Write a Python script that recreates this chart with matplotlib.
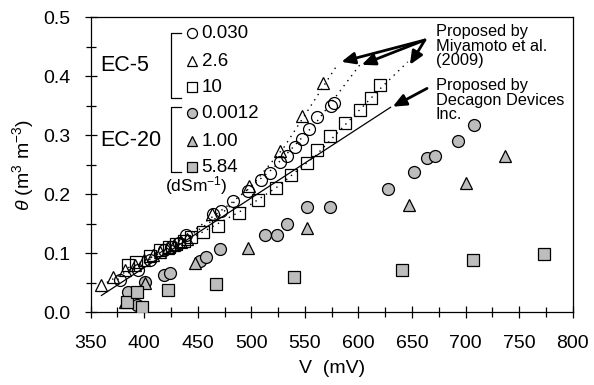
import matplotlib
matplotlib.use("Agg")
import matplotlib.pyplot as plt

plt.rcParams['font.family'] = ['Liberation Sans', 'DejaVu Sans']
plt.rcParams['mathtext.fontset'] = 'custom'
plt.rcParams['mathtext.rm'] = 'Liberation Sans'
plt.rcParams['mathtext.it'] = 'Liberation Sans:italic'

# EC-5 (open markers)
ec5_c_v = [377, 394, 405, 418, 425, 432, 439, 464, 472, 483, 497, 509, 517, 527, 533, 541, 547, 554, 561, 574, 577]
ec5_c_t = [0.054, 0.071, 0.088, 0.105, 0.110, 0.117, 0.131, 0.166, 0.172, 0.188, 0.205, 0.224, 0.236, 0.255, 0.265,
           0.280, 0.294, 0.311, 0.331, 0.350, 0.354]
ec5_t_v = [360, 371, 382, 391, 400, 408, 415, 422, 428, 434, 440, 463, 498, 527, 547, 567]
ec5_t_t = [0.046, 0.060, 0.071, 0.080, 0.088, 0.096, 0.102, 0.108, 0.113, 0.118, 0.124, 0.166, 0.213, 0.273, 0.333, 0.388]
ec5_s_v = [385, 392, 405, 415, 423, 430, 437, 444, 455, 469, 488, 506, 523, 537, 552, 561, 573, 587, 601, 612, 620]
ec5_s_t = [0.080, 0.085, 0.095, 0.105, 0.110, 0.115, 0.120, 0.127, 0.136, 0.146, 0.168, 0.190, 0.211, 0.232, 0.252,
           0.275, 0.298, 0.320, 0.342, 0.362, 0.385]

# EC-20 (grey markers)
ec20_c_v = [385, 393, 401, 418, 424, 452, 458, 471, 513, 524, 533, 552, 573, 628, 652, 664, 671, 693, 708]
ec20_c_t = [0.034, 0.012, 0.051, 0.062, 0.066, 0.086, 0.093, 0.106, 0.130, 0.130, 0.150, 0.178, 0.178, 0.208, 0.237,
            0.261, 0.265, 0.290, 0.317]
ec20_t_v = [382, 401, 447, 497, 552, 647, 700, 737]
ec20_t_t = [0.017, 0.049, 0.083, 0.108, 0.142, 0.181, 0.219, 0.264]
ec20_s_v = [384, 393, 398, 422, 467, 540, 641, 707, 773]
ec20_s_t = [0.017, 0.034, 0.009, 0.037, 0.047, 0.060, 0.071, 0.088, 0.098]

# calibration curves
miya_a_v = [365, 400, 440, 470, 500, 530, 555, 581]
miya_a_t = [0.050, 0.086, 0.126, 0.163, 0.213, 0.278, 0.348, 0.421]
miya_b_v = [375, 400, 440, 480, 520, 560, 603]
miya_b_t = [0.055, 0.083, 0.130, 0.183, 0.243, 0.320, 0.423]
miya_c_v = [385, 420, 455, 490, 525, 560, 590, 620, 646]
miya_c_t = [0.075, 0.104, 0.136, 0.171, 0.213, 0.265, 0.322, 0.378, 0.424]
deca_v = [360, 630]
deca_t = [0.028, 0.347]

grey = '#bdbdbd'

fig = plt.figure(figsize=(5.94, 3.85), dpi=100)
ax = fig.add_axes([0.1527, 0.1896, 0.8114, 0.7662])

ax.plot(deca_v, deca_t, color='k', lw=0.9, zorder=2)
for vv, tt in [(miya_a_v, miya_a_t), (miya_b_v, miya_b_t), (miya_c_v, miya_c_t)]:
    ax.plot(vv, tt, color='k', lw=1.0, ls=(0, (1, 3.5)), zorder=4)

ms = 8.6
ax.plot(ec20_c_v, ec20_c_t, 'o', ms=ms, mfc=grey, mec='k', mew=0.9, zorder=3)
ax.plot(ec20_t_v, ec20_t_t, '^', ms=ms, mfc=grey, mec='k', mew=0.9, zorder=3)
ax.plot(ec20_s_v, ec20_s_t, 's', ms=ms, mfc=grey, mec='k', mew=0.9, zorder=3)
ax.plot(ec5_s_v, ec5_s_t, 's', ms=ms, mfc='none', mec='k', mew=0.9, zorder=3)
ax.plot(ec5_c_v, ec5_c_t, 'o', ms=ms, mfc='none', mec='k', mew=0.9, zorder=3)
ax.plot(ec5_t_v, ec5_t_t, '^', ms=ms, mfc='none', mec='k', mew=0.9, zorder=3)

ax.set_xlim(350, 800)
ax.set_ylim(0, 0.5)
ax.set_xticks(range(350, 801, 50))
ax.set_xticks(range(375, 800, 50), minor=True)
ax.set_yticks([0, 0.1, 0.2, 0.3, 0.4, 0.5])
ax.set_yticks([0.05, 0.15, 0.25, 0.35, 0.45], minor=True)
ax.set_yticklabels(['0.0', '0.1', '0.2', '0.3', '0.4', '0.5'])
ax.tick_params(which='major', direction='inout', length=9, width=0.9, labelsize=14, pad=10)
ax.tick_params(which='minor', direction='inout', length=7, width=0.9)
ax.tick_params(axis='x', which='major', pad=12)
for s in ax.spines.values():
    s.set_linewidth(0.9)

ax.set_xlabel('V  (mV)', fontsize=14, labelpad=6)
ax.set_ylabel(r'$\theta$ (m$^3$ m$^{-3}$)', fontsize=14, labelpad=5)

# legend drawn by hand
rows = [0.9447, 0.8508, 0.7627, 0.6746, 0.5797, 0.4915]
marks = ['o', '^', 's', 'o', '^', 's']
fills = ['white', 'white', 'white', grey, grey, grey]
labels = ['0.030', '2.6', '10', '0.0012', '1.00', '5.84']
for y, m, f, lab in zip(rows, marks, fills, labels):
    ax.plot([0.2095], [y], m, ms=7.2, mfc=f, mec='k', mew=0.9, transform=ax.transAxes, clip_on=False)
    ax.text(0.230, y, lab, transform=ax.transAxes, fontsize=13.5, va='center', ha='left')
ax.text(0.2195, 0.427, r'(dSm$^{\mathregular{-1}}$)', transform=ax.transAxes, fontsize=12.5, va='center', ha='center')
ax.text(0.019, 0.837, 'EC-5', transform=ax.transAxes, fontsize=15.5, va='center', ha='left')
ax.text(0.019, 0.583, 'EC-20', transform=ax.transAxes, fontsize=15.5, va='center', ha='left')
for top, bot in [(0.9447, 0.7244), (0.6959, 0.4756)]:
    ax.plot([0.1873, 0.1666, 0.1666, 0.1873], [top, top, bot, bot], color='k', lw=0.9, transform=ax.transAxes)

# annotations
ax.text(0.7164, 0.975, 'Proposed by\nMiyamoto et al.\n(2009)', transform=ax.transAxes, fontsize=11.8,
        va='top', ha='left', linespacing=0.95)
ax.text(0.7164, 0.792, 'Proposed by\nDecagon Devices\nInc.', transform=ax.transAxes, fontsize=11.8,
        va='top', ha='left', linespacing=0.95)
arw = dict(arrowstyle='-|>,head_length=0.8,head_width=0.35', color='k', lw=2, shrinkA=0, shrinkB=0)
for hx, hy in [(584, 0.424), (603, 0.419), (648, 0.419)]:
    ax.annotate('', xy=(hx, hy), xytext=(662, 0.461), arrowprops=arw)
ax.annotate('', xy=(632, 0.348), xytext=(664, 0.379), arrowprops=arw)

fig.savefig('out.png', dpi=100)
